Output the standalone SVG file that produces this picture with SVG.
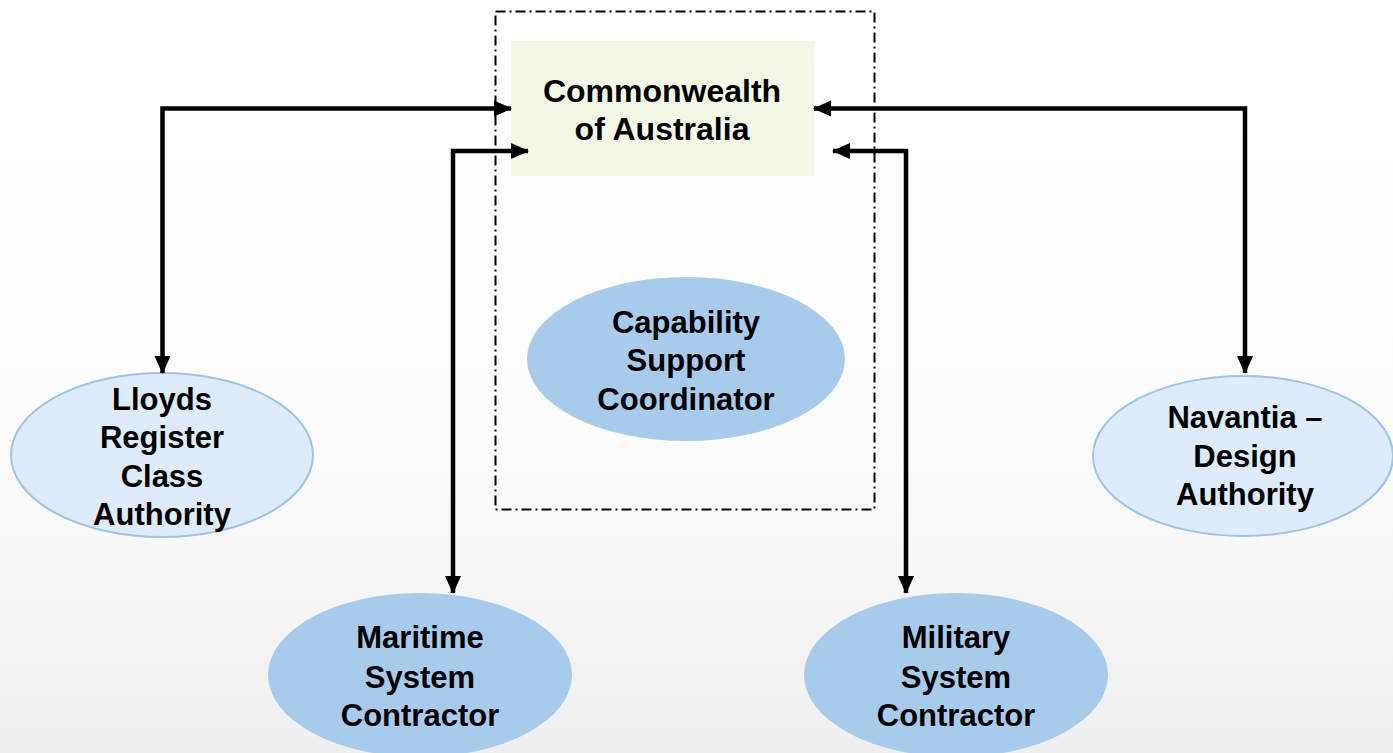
<svg xmlns="http://www.w3.org/2000/svg" width="1393" height="753" viewBox="0 0 1393 753">
<style>
text{font-family:"Liberation Sans",Arial,sans-serif;font-weight:bold;font-size:31px;fill:#000;text-anchor:middle}
.big{font-size:32px}
.conn{fill:none;stroke:#000;stroke-width:4.5}
.light{fill:#deebf8;stroke:#9dc3e6;stroke-width:2}
.dark{fill:#a8cbec}
</style>
<defs>
<linearGradient id="bg" x1="0" y1="0" x2="0" y2="1">
<stop offset="0" stop-color="#ffffff"/>
<stop offset="0.6" stop-color="#fcfcfc"/>
<stop offset="1" stop-color="#efefef"/>
</linearGradient>
<marker id="ah" markerUnits="userSpaceOnUse" markerWidth="18" markerHeight="18" viewBox="0 0 18 18" refX="17" refY="9" orient="auto-start-reverse">
<path d="M0,1 L18,9 L0,17 Z" fill="#000"/>
</marker>
</defs>
<rect width="1393" height="753" fill="url(#bg)"/>
<rect x="495.5" y="11.5" width="379" height="498" fill="none" stroke="#000" stroke-width="2" stroke-dasharray="10,4,2,4"/>
<g id="commonwealth">
<rect x="511" y="41" width="303" height="135" fill="#f3f8e6"/>
<text class="big" x="662" y="102">Commonwealth</text>
<text class="big" x="662" y="140">of Australia</text>
</g>
<g id="csc">
<ellipse class="dark" cx="686" cy="359" rx="159" ry="82"/>
<text x="686" y="333">Capability</text>
<text x="686" y="371">Support</text>
<text x="686" y="410">Coordinator</text>
</g>
<g id="lloyds">
<ellipse class="light" cx="162" cy="455" rx="151" ry="82"/>
<text x="162" y="410">Lloyds</text>
<text x="162" y="448">Register</text>
<text x="162" y="487">Class</text>
<text x="162" y="525">Authority</text>
</g>
<g id="navantia">
<ellipse class="light" cx="1243" cy="456" rx="150" ry="80"/>
<text x="1245" y="428">Navantia –</text>
<text x="1245" y="467">Design</text>
<text x="1245" y="505">Authority</text>
</g>
<g id="maritime">
<ellipse class="dark" cx="420" cy="675" rx="152" ry="82"/>
<text x="420" y="648">Maritime</text>
<text x="420" y="688">System</text>
<text x="420" y="726">Contractor</text>
</g>
<g id="military">
<ellipse class="dark" cx="956" cy="675" rx="152" ry="82"/>
<text x="956" y="648">Military</text>
<text x="956" y="688">System</text>
<text x="956" y="726">Contractor</text>
</g>
<g id="connectors">
<path class="conn" d="M162.5,373 V108.5 H511" marker-start="url(#ah)" marker-end="url(#ah)"/>
<path class="conn" d="M453,593 V151 H528" marker-start="url(#ah)" marker-end="url(#ah)"/>
<path class="conn" d="M1245,373 V108.5 H814" marker-start="url(#ah)" marker-end="url(#ah)"/>
<path class="conn" d="M906,593 V151 H833" marker-start="url(#ah)" marker-end="url(#ah)"/>
</g>
</svg>
